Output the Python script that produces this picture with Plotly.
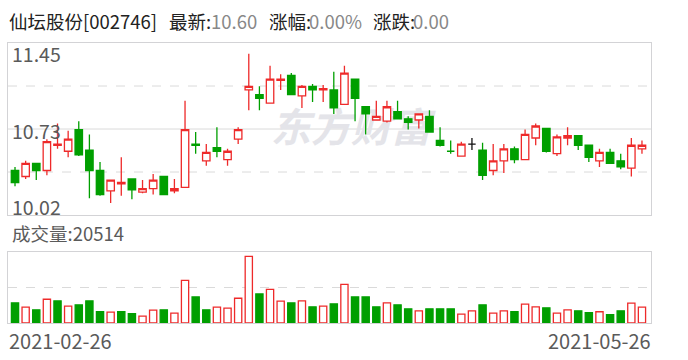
import plotly.graph_objects as go

# ---------------- data ----------------
date_labels = ["2021-02-26", "2021-05-26"]
stock_name = "仙坛股份[002746]"
latest_label, latest_value = "最新:", "10.60"
pct_label, pct_value = "涨幅:", "0.00%"
chg_label, chg_value = "涨跌:", "0.00"
volume_label = "成交量:20514"
price_tick_labels = ["11.45", "10.73", "10.02"]
price_top, price_bottom = 11.45, 10.02

opens = [10.39, 10.34, 10.45, 10.39, 10.60, 10.55, 10.73, 10.56, 10.39, 10.22,
         10.28, 10.32, 10.21, 10.24, 10.34, 10.22, 10.25, 10.61, 10.47, 10.58,
         10.48, 10.65, 11.06, 11.02, 10.95, 11.14, 11.18, 11.01, 11.09, 11.06,
         11.06, 10.94, 11.15, 10.92, 10.81, 10.80, 10.88, 10.82, 10.81, 10.84,
         10.64, 10.55, 10.51, 10.61, 10.56, 10.39, 10.47, 10.57, 10.48, 10.66,
         10.74, 10.53, 10.66, 10.68, 10.60, 10.47, 10.54, 10.47, 10.41, 10.57]
highs = [10.42, 10.47, 10.45, 10.65, 10.78, 10.72, 10.80, 10.69, 10.46, 10.31,
         10.50, 10.32, 10.31, 10.36, 10.34, 10.32, 10.97, 10.71, 10.61, 10.75,
         10.57, 10.75, 11.36, 11.09, 11.26, 11.19, 11.20, 11.10, 11.11, 11.10,
         11.21, 11.26, 11.15, 10.92, 10.97, 10.97, 10.97, 10.84, 10.86, 10.89,
         10.75, 10.64, 10.63, 10.66, 10.62, 10.61, 10.61, 10.59, 10.73, 10.78,
         10.74, 10.69, 10.75, 10.68, 10.60, 10.57, 10.57, 10.53, 10.66, 10.64]
lows = [10.26, 10.32, 10.31, 10.35, 10.57, 10.50, 10.51, 10.16, 10.18, 10.12,
        10.18, 10.15, 10.20, 10.19, 10.19, 10.20, 10.25, 10.53, 10.43, 10.50,
        10.43, 10.61, 10.89, 10.89, 10.95, 11.06, 11.02, 10.91, 10.96, 10.96,
        10.86, 10.94, 10.80, 10.69, 10.81, 10.79, 10.82, 10.73, 10.74, 10.71,
        10.59, 10.53, 10.51, 10.56, 10.31, 10.35, 10.37, 10.45, 10.48, 10.60,
        10.54, 10.51, 10.60, 10.56, 10.46, 10.42, 10.45, 10.40, 10.34, 10.53]
closes = [10.29, 10.45, 10.39, 10.63, 10.61, 10.65, 10.52, 10.39, 10.19, 10.31,
          10.29, 10.23, 10.24, 10.31, 10.19, 10.24, 10.73, 10.60, 10.54, 10.55,
          10.55, 10.73, 11.09, 10.99, 11.15, 11.15, 11.02, 11.09, 11.06, 11.07,
          10.91, 11.20, 10.99, 10.86, 10.84, 10.92, 10.82, 10.79, 10.86, 10.71,
          10.60, 10.55, 10.61, 10.61, 10.35, 10.47, 10.57, 10.48, 10.69, 10.76,
          10.55, 10.67, 10.68, 10.60, 10.50, 10.54, 10.45, 10.42, 10.60, 10.60]
volumes = [26070, 20514, 17095, 30771, 28634, 21796, 23506, 28634, 14531, 14103,
           14531, 11967, 8975, 16668, 17095, 12821, 55132, 33763, 17095, 20514,
           19232, 32053, 86331, 37609, 43593, 28207, 26070, 28634, 20942, 21796,
           24788, 50004, 33763, 33763, 20942, 26070, 23506, 18377, 15813, 18377,
           18377, 18377, 11539, 15813, 23506, 12821, 15813, 14531, 24361, 20942,
           19660, 12821, 17095, 15813, 13249, 14531, 10685, 15813, 25643, 20514]
volume_axis_max = 91900

# ---------------- styling ----------------
RED = "#ee2a2a"
GREEN = "#009f00"
BLACK = "#111111"
BORDER = "#d3d3d6"
GRID = "#dadada"
FONT = "Noto Sans CJK SC, Microsoft YaHei, sans-serif"

W, H = 688, 360
PL, PR, PT, PB = 8, 651, 43, 323          # plot box in pixels
price_box_bottom = 215
vol_box_top = 252


def xp(px):
    return (px - PL) / (PR - PL)


def yp(py):
    return (PB - py) / (PB - PT)


n = len(closes)
idx = list(range(n))


def candle_dir(i):
    if closes[i] > opens[i]:
        return "up"
    if closes[i] < opens[i]:
        return "down"
    prev = closes[i - 1] if i > 0 else opens[i]
    if closes[i] > prev:
        return "up"
    if closes[i] < prev:
        return "down"
    return "flat"


def vol_dir(i):
    if i == 0:
        return "up" if closes[0] >= opens[0] else "down"
    return "up" if closes[i] >= closes[i - 1] else "down"


fig = go.Figure()

# watermark on the base price axes (candles sit on an overlaying axis above it)
fig.add_trace(go.Scatter(
    x=[31.6], y=[10.71], mode="text", text=["东方财富"],
    textfont=dict(family=FONT, size=40, color="#e4e4e9", weight="bold", style="italic"),
    hoverinfo="skip", showlegend=False, xaxis="x", yaxis="y"))

styles = {
    "up": dict(line=RED, fill="#ffffff"),
    "down": dict(line=GREEN, fill=GREEN),
    "flat": dict(line=BLACK, fill=BLACK),
}
for d, st in styles.items():
    sel = [i for i in idx if candle_dir(i) == d]
    if not sel:
        continue
    s = dict(line=dict(color=st["line"], width=1.3), fillcolor=st["fill"])
    fig.add_trace(go.Candlestick(
        x=sel,
        open=[opens[i] for i in sel], high=[highs[i] for i in sel],
        low=[lows[i] for i in sel], close=[closes[i] for i in sel],
        increasing=s, decreasing=s, whiskerwidth=0,
        showlegend=False, hoverinfo="skip", xaxis="x", yaxis="y3"))

for d in ["up", "down"]:
    sel = [i for i in idx if vol_dir(i) == d]
    fig.add_trace(go.Bar(
        x=sel, y=[volumes[i] for i in sel], width=0.68,
        marker=dict(color="#ffffff" if d == "up" else GREEN,
                    line=dict(color=RED if d == "up" else GREEN, width=1.3)),
        showlegend=False, hoverinfo="skip", xaxis="x2", yaxis="y2"))

x_range = [-0.66, n - 1 + 0.85]
axis_common = dict(showgrid=False, zeroline=False, showticklabels=False, ticks="",
                   showline=True, mirror=True, linecolor=BORDER, linewidth=1)

fig.update_layout(
    width=W, height=H,
    margin=dict(l=PL, r=W - PR, t=PT, b=H - PB),
    paper_bgcolor="white", plot_bgcolor="white",
    barmode="overlay", boxgap=0.3, boxgroupgap=0.0,
    xaxis=dict(domain=[0, 1], anchor="y", range=x_range, rangeslider=dict(visible=False),
               **axis_common),
    xaxis2=dict(domain=[0, 1], anchor="y2", range=x_range, matches="x", **axis_common),
    yaxis=dict(domain=[yp(price_box_bottom), 1], anchor="x", range=[price_bottom, price_top],
               **axis_common),
    yaxis3=dict(overlaying="y", anchor="x", range=[price_bottom, price_top],
                showgrid=False, zeroline=False, showticklabels=False, ticks="",
                showline=False),
    yaxis2=dict(domain=[0, yp(vol_box_top)], anchor="x2", range=[0, volume_axis_max],
                **axis_common),
    hovermode=False,
)

# grid lines
step = (price_top - price_bottom) / 4
for k, dash in [(1, "dash"), (2, "solid"), (3, "dash")]:
    fig.add_shape(type="line", xref="x domain", yref="y", x0=0, x1=1,
                  y0=price_bottom + k * step, y1=price_bottom + k * step,
                  line=dict(color=GRID, width=1, dash=dash), layer="below")
fig.add_shape(type="line", xref="x2 domain", yref="y2", x0=0, x1=1,
              y0=volume_axis_max / 2, y1=volume_axis_max / 2,
              line=dict(color=GRID, width=1, dash="dash"), layer="below")

anns = []


def add_text(text, px, py, color, size=18.5, xanchor="left"):
    anns.append(dict(text=text, x=xp(px), y=yp(py), xref="paper", yref="paper",
                     xanchor=xanchor, yanchor="middle", showarrow=False,
                     font=dict(family=FONT, size=size, color=color)))


# header
add_text(stock_name, 7, 21, "#222222")
add_text(latest_label, 167, 21, "#222222")
add_text(latest_value, 209, 21, "#888888")
add_text(pct_label, 267, 21, "#222222")
add_text(pct_value, 307, 21, "#888888")
add_text(chg_label, 371, 21, "#222222")
add_text(chg_value, 411, 21, "#888888")

# price labels inside the chart
label_y = [53.5, 130, 207]
for t, py in zip(price_tick_labels, label_y):
    add_text(t, 10, py, "#5a5a5a", size=19.5)

add_text(volume_label, 10, 232.5, "#5a5a5a", size=18.5)
add_text(date_labels[0], 7, 340.5, "#5a5a5a", size=20)
add_text(date_labels[1], 653, 340.5, "#5a5a5a", size=20, xanchor="right")

fig.update_layout(annotations=anns)

fig.write_html("out.html", config={"displayModeBar": False},
               post_script="document.body.style.margin='0';document.body.style.overflow='hidden';")
